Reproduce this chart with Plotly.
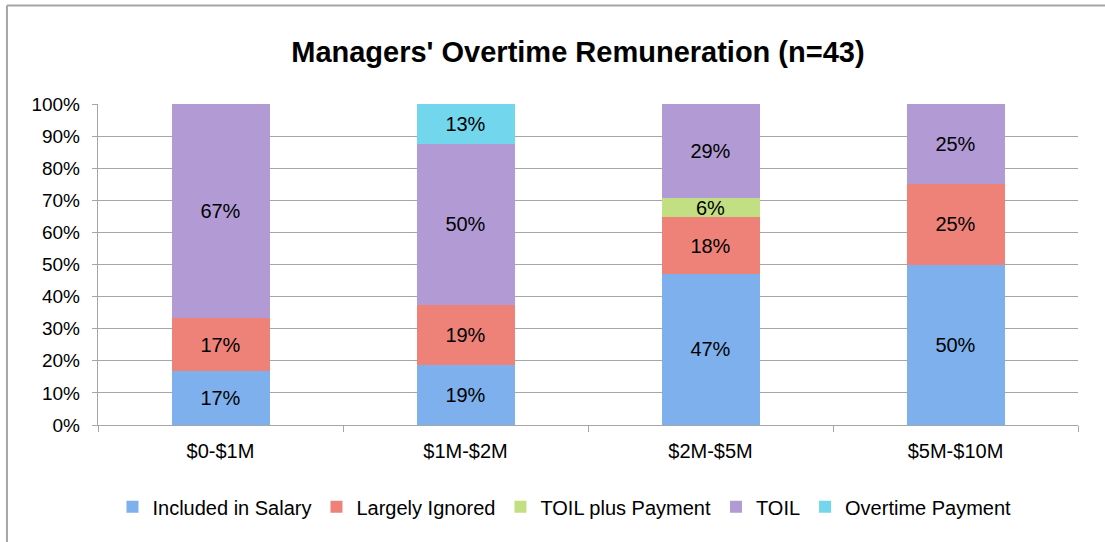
import plotly.graph_objects as go

categories = ["$0-$1M", "$1M-$2M", "$2M-$5M", "$5M-$10M"]
series_names = ["Included in Salary", "Largely Ignored", "TOIL plus Payment", "TOIL", "Overtime Payment"]
included_in_salary = [16.7, 18.75, 47.06, 50.0]
largely_ignored = [16.7, 18.75, 17.65, 25.0]
toil_plus_payment = [None, None, 5.88, None]
toil = [66.6, 50.0, 29.41, 25.0]
overtime_payment = [None, 12.5, None, None]

series_values = [included_in_salary, largely_ignored, toil_plus_payment, toil, overtime_payment]
colors = ["#7db0ec", "#ee8279", "#c2e083", "#b29ad5", "#72d6ec"]

FONT = "Liberation Sans, Arial, sans-serif"

fig = go.Figure()
for name, vals, col in zip(series_names, series_values, colors):
    fig.add_trace(go.Bar(
        x=categories, y=vals, name=name,
        marker=dict(color=col, line=dict(width=0)),
        text=[None if v is None else f"{int(v + 0.5)}%" for v in vals],
        textposition="inside", insidetextanchor="middle",
        textfont=dict(color="black", size=20, family=FONT),
        cliponaxis=False,
    ))

fig.update_layout(
    barmode="stack",
    bargap=0.6,
    width=1105, height=542,
    margin=dict(l=98, r=27, t=104, b=117),
    paper_bgcolor="white", plot_bgcolor="white",
    font=dict(family=FONT, color="black", size=19),
    title=dict(text="<b>Managers' Overtime Remuneration (n=43)</b>",
               x=0.523, xanchor="center", y=0.904, yanchor="middle",
               font=dict(size=29, family=FONT, color="black")),
    uniformtext=dict(minsize=20, mode="show"),
    legend=dict(orientation="h", x=0.476, xanchor="center", y=-0.255, yanchor="middle",
                font=dict(size=20), itemwidth=30, traceorder="normal"),
    showlegend=True,
)
fig.update_yaxes(range=[0, 100], tickvals=list(range(0, 101, 10)),
                 ticktext=[f"{v}%" for v in range(0, 101, 10)],
                 showgrid=True, gridcolor="#a6a6a6", gridwidth=1.4,
                 showline=True, linecolor="#a6a6a6", linewidth=1.4,
                 ticks="outside", ticklen=5, tickcolor="#a6a6a6", tickwidth=1.4,
                 tickfont=dict(size=19), ticklabelstandoff=8, zeroline=False)
fig.update_xaxes(showline=True, linecolor="#a6a6a6", linewidth=1.4,
                 ticks="outside", tickson="boundaries", ticklen=6,
                 tickcolor="#a6a6a6", tickwidth=1.4, tickfont=dict(size=20),
                 ticklabelstandoff=8, showgrid=False)
fig.add_shape(type="line", xref="paper", yref="paper",
              x0=-0.0929, x1=1.03, y0=1.307, y1=1.307,
              line=dict(color="#a6a6a6", width=2))
fig.add_shape(type="line", xref="paper", yref="paper",
              x0=-0.0929, x1=-0.0929, y0=1.307, y1=-0.4,
              line=dict(color="#a6a6a6", width=2))

fig.write_html("out.html", config={"displayModeBar": False},
               post_script="document.body.style.margin='0';document.body.style.padding='0';")
